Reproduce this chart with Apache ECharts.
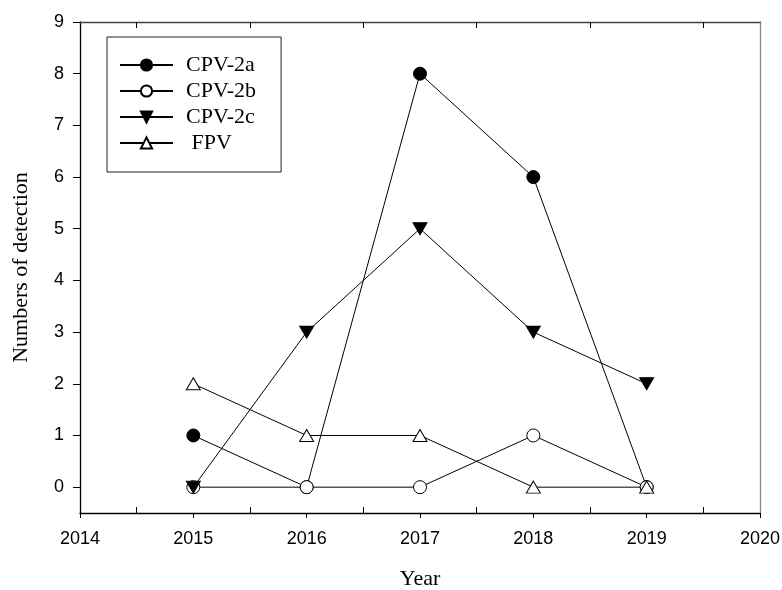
<!DOCTYPE html>
<html><head><meta charset="utf-8">
<script src="https://cdn.jsdelivr.net/npm/echarts@6/dist/echarts.min.js"></script>
<style>html,body{margin:0;padding:0;background:#fff}#c{width:782px;height:590px}</style>
</head><body><div id="c"></div>
<script>
const years = [2015, 2016, 2017, 2018, 2019];
const cpv2a = [1, 0, 8, 6, 0];
const cpv2b = [0, 0, 0, 1, 0];
const cpv2c = [0, 3, 5, 3, 2];
const fpv = [2, 1, 1, 0, 0];
const xTicks = [2014, 2015, 2016, 2017, 2018, 2019, 2020];
const xMinor = [2014.5, 2015.5, 2016.5, 2017.5, 2018.5, 2019.5];
const yTicks = [0, 1, 2, 3, 4, 5, 6, 7, 8, 9];

const pair = v => years.map((y, i) => [y, v[i]]);
const chart = echarts.init(document.getElementById('c'));
const serif = '"Liberation Serif", "Times New Roman", serif';
const sans = '"Liberation Sans", Arial, sans-serif';
const baseX = {type: 'value', min: 2014, max: 2020, interval: 1, splitLine: {show: false}};
function mk(name, data, symbol, fill) {
  return {
    name, type: 'line', data: pair(data), symbol,
    symbolSize: symbol === 'circle' ? 13 : [14, 12],
    lineStyle: {color: '#000', width: 1},
    itemStyle: {color: fill, borderColor: '#000', borderWidth: 1},
    emphasis: {disabled: true}, z: 3
  };
}
chart.setOption({
  animation: false,
  grid: {left: 80, right: 22, top: 22, bottom: 77, outerBoundsMode: 'none', containLabel: false},
  legend: {
    left: 107, top: 37, orient: 'vertical',
    padding: [17, 25, 18, 12], itemGap: 4, itemWidth: 53, itemHeight: 14,
    borderColor: '#222', borderWidth: 1,
    textStyle: {fontFamily: serif, fontSize: 22, color: '#000', padding: [0, 0, 0, 8]},
    data: [{name: 'CPV-2a'}, {name: 'CPV-2b'}, {name: 'CPV-2c'}, {name: ' FPV'}]
  },
  xAxis: [
    Object.assign({}, baseX, {
      position: 'bottom', name: 'Year', nameLocation: 'middle', nameGap: 55,
      nameTextStyle: {fontFamily: serif, fontSize: 22, color: '#000'},
      axisLine: {onZero: false, lineStyle: {color: '#000', width: 1.3}},
      axisTick: {show: true, inside: false, length: 5, lineStyle: {color: '#000'}, customValues: xTicks},
      axisLabel: {fontFamily: sans, fontSize: 18, color: '#000', margin: 17, customValues: xTicks,
        formatter: v => String(v)}
    }),
    Object.assign({}, baseX, {
      position: 'bottom',
      axisLine: {show: false, onZero: false},
      axisTick: {show: true, inside: true, length: 6, lineStyle: {color: '#000'}, customValues: xMinor},
      axisLabel: {show: false}
    }),
    Object.assign({}, baseX, {
      position: 'top',
      axisLine: {show: true, onZero: false, lineStyle: {color: '#444', width: 1.3}},
      axisTick: {show: true, inside: true, length: 6, lineStyle: {color: '#000'}, customValues: xMinor},
      axisLabel: {show: false}
    })
  ],
  yAxis: [
    {
      type: 'value', min: -0.5, max: 9, position: 'left',
      name: 'Numbers of detection', nameLocation: 'middle', nameGap: 48, nameRotate: 90,
      nameTextStyle: {fontFamily: serif, fontSize: 22, color: '#000'},
      splitLine: {show: false},
      axisLine: {show: true, onZero: false, lineStyle: {color: '#000', width: 1.3}},
      axisTick: {show: true, inside: false, length: 7, lineStyle: {color: '#000'}, customValues: yTicks},
      axisLabel: {fontFamily: sans, fontSize: 18, color: '#000', margin: 16, customValues: yTicks}
    },
    {
      type: 'value', min: -0.5, max: 9, position: 'right',
      splitLine: {show: false},
      axisLine: {show: true, onZero: false, lineStyle: {color: '#888', width: 1.3}},
      axisTick: {show: false}, axisLabel: {show: false}
    }
  ],
  series: [
    mk('CPV-2a', cpv2a, 'circle', '#000'),
    mk('CPV-2b', cpv2b, 'circle', '#fff'),
    mk('CPV-2c', cpv2c, 'triangle', '#000'),
    mk(' FPV', fpv, 'triangle', '#fff')
  ].map((s, i) => {
    if (i === 2) s.symbolRotate = 180;
    return s;
  })
});
</script></body></html>
